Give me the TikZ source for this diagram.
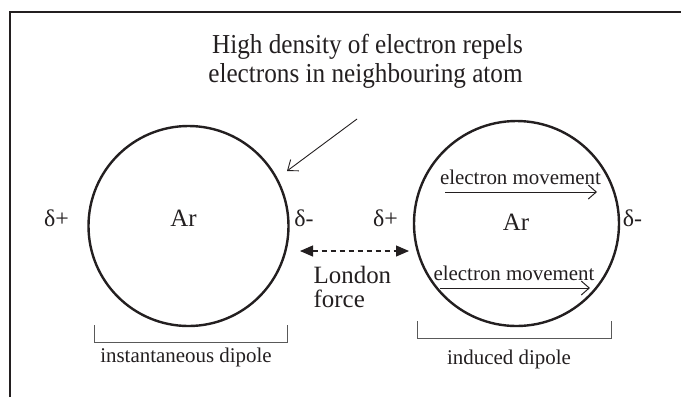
\documentclass[tikz,border=0pt]{standalone}
\usepackage{fontspec}
\setmainfont{Liberation Serif}
\newfontfamily\headfont[FakeStretch=0.92]{Liberation Serif}
\usetikzlibrary{arrows.meta}
\definecolor{ink}{HTML}{231F20}
\begin{document}
\begin{tikzpicture}[x=1bp,y=-1bp,
  every node/.style={text=ink, inner sep=0pt},
  frameline/.style={draw=ink, line width=2.4bp},
  atomc/.style={draw=ink, line width=2.4bp, circle, inner sep=0pt},
  bracketline/.style={draw=black!65, line width=1bp},
  thinarrow/.style={draw=ink, line width=0.9bp, -{Straight Barb[length=9bp,width=14bp]}},
  movearrow/.style={draw=ink, line width=1bp, -{Straight Barb[length=8bp,width=14bp]}},
  londonarrow/.style={draw=ink, line width=1.1bp, dash pattern=on 5bp off 4bp,
     {Triangle[length=13bp,width=11bp]}-{Triangle[length=13bp,width=11bp]}},
  headtxt/.style={font=\headfont\fontsize{27.5}{30}\selectfont, anchor=base},
  bigtxt/.style={font=\fontsize{25}{30}\selectfont},
  midtxt/.style={font=\fontsize{25}{28}\selectfont, anchor=base},
  deltxt/.style={font=\fontsize{24}{28}\selectfont, anchor=base},
  smalltxt/.style={font=\fontsize{21}{25}\selectfont, anchor=base}]
\useasboundingbox (0,0) rectangle (681,397);
% frame
\draw[frameline] (10,397) -- (10,12) -- (681,12);
% heading
\node[headtxt] (h1) at (367.5,53.5) {High density of electron repels};
\node[headtxt] (h2) at (365.5,82.5) {electrons in neighbouring atom};
% atoms
\node[atomc, minimum size=200bp] (L) at (188.5,226) {};
\node[atomc, minimum size=205bp] (R) at (516.5,223.5) {};
\node[midtxt] (arL) at (183.5,226.5) {Ar};
\node[midtxt] (arR) at (516,230.5) {Ar};
\node[deltxt] (dpL) at (56.5,226.5) {δ+};
\node[deltxt] (dmL) at (304,226.5) {δ-};
\node[deltxt] (dpR) at (385.5,226.5) {δ+};
\node[deltxt] (dmR) at (632.5,226.5) {δ-};
% annotation arrow
\coordinate (a1) at (357,119);
\coordinate (a2) at (287,171);
\draw[thinarrow] (a1) -- (a2);
% electron movement
\node[smalltxt] (em1) at (520.5,184) {electron movement};
\node[smalltxt] (em2) at (514,280) {electron movement};
\coordinate (m1s) at (445,192);
\coordinate (m1e) at (597,192);
\coordinate (m2s) at (440,288);
\coordinate (m2e) at (590,288);
\draw[movearrow] (m1s) -- (m1e);
\draw[movearrow] (m2s) -- (m2e);
% London force
\coordinate (lf1) at (300,251);
\coordinate (lf2) at (409,251);
\draw[londonarrow] (lf1) -- (lf2);
\node[bigtxt, anchor=base west] (lon) at (313.5,283.5) {London};
\node[bigtxt, anchor=base west] (frc) at (313.5,307.5) {force};
% brackets
\draw[bracketline] (94,325) -- (94,342) -- (287,342) -- (287,325);
\draw[bracketline] (417,321) -- (417,338) -- (611,338) -- (611,321);
\node[smalltxt] (inst) at (186,362) {instantaneous dipole};
\node[smalltxt] (ind) at (509,364) {induced dipole};
\end{tikzpicture}
\end{document}
